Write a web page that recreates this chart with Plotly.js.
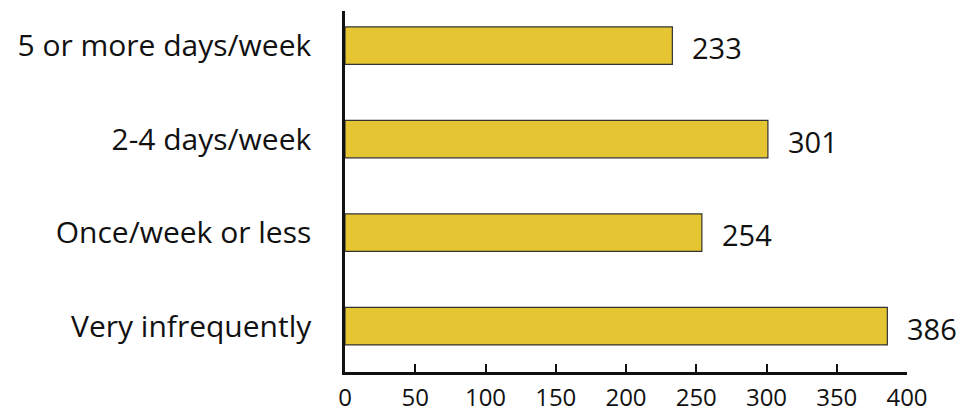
<!DOCTYPE html>
<html><head><meta charset="utf-8">
<script src="https://cdn.plot.ly/plotly-3.0.1.min.js"></script>
<style>html,body{margin:0;padding:0;background:#fff}#c{width:965px;height:412px}</style>
</head><body><div id="c"></div>
<script>
const categories = ["5 or more days/week", "2-4 days/week", "Once/week or less", "Very infrequently"];
const values = [233, 301, 254, 386];
const xTicks = [0, 50, 100, 150, 200, 250, 300, 350, 400];

const FONT = "Open Sans, Liberation Sans, sans-serif";
const trace = {
  type: "bar", orientation: "h",
  y: categories, x: values,
  width: 0.4,
  marker: {color: "#E5C632", line: {color: "#333333", width: 1.2}},
  hoverinfo: "skip"
};
const annotations = categories.map((c, i) => ({
  x: values[i], y: c, xref: "x", yref: "y",
  text: String(values[i]), showarrow: false,
  xanchor: "left", yanchor: "middle", xshift: 18, yshift: -2,
  font: {family: FONT, size: 29, color: "#111"}
}));
const layout = {
  width: 965, height: 412,
  margin: {l: 345, r: 58, t: 11, b: 40},
  paper_bgcolor: "#fff", plot_bgcolor: "#fff",
  showlegend: false,
  xaxis: {
    range: [0, 400], tickvals: xTicks, ticktext: xTicks.map(String),
    showgrid: false, zeroline: false,
    showline: true, linecolor: "#111", linewidth: 2.5,
    ticks: "inside", ticklen: 8, tickwidth: 2, tickcolor: "#111",
    ticklabelstandoff: 3,
    tickfont: {family: FONT, size: 24, color: "#111"}
  },
  yaxis: {
    type: "category", range: [3.49, -0.37],
    showgrid: false, zeroline: false,
    showline: true, linecolor: "#111", linewidth: 2.7,
    ticks: "", ticklabelstandoff: 25,
    tickfont: {family: FONT, size: 30, color: "#111"}
  },
  annotations: annotations
};
Plotly.newPlot("c", [trace], layout, {staticPlot: true, displayModeBar: false});
</script></body></html>
